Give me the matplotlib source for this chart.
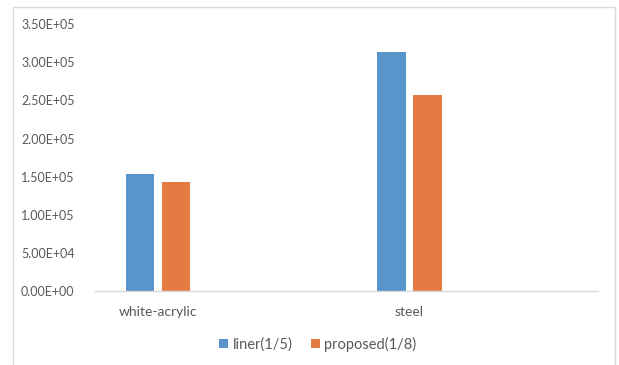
import matplotlib.pyplot as plt
from matplotlib.patches import Rectangle
from matplotlib.ticker import FuncFormatter
import numpy as np

plt.rcParams['font.family'] = ['Lato', 'DejaVu Sans']

materials = ['white-acrylic', 'steel']
liner = [1.53e5, 3.136e5]
proposed = [1.43e5, 2.568e5]
series_names = ['liner(1/5)', 'proposed(1/8)']

W, H = 619, 365
fig = plt.figure(figsize=(W / 100, H / 100), dpi=100)

# chart frame, runs off the bottom of the image
fig.patches.append(Rectangle((13 / W, -0.05), (615 - 13) / W, 1.05 - 6.5 / H,
                             transform=fig.transFigure, fill=False,
                             edgecolor='#d9d9d9', linewidth=1.0))

ax = fig.add_axes([95.4 / W, 1 - 291 / H, (598 - 95.4) / W, (291 - 24.3) / H])

x = np.arange(len(materials))
w = 0.1126
off = 0.0712
ax.bar(x - off, liner, w, color='#5795ca', label=series_names[0])
ax.bar(x + off, proposed, w, color='#e37b42', label=series_names[1])

ax.set_xlim(-0.25, 1.75)
ax.set_ylim(0, 3.5e5)
ax.set_yticks(np.arange(0, 3.5e5 + 1, 5e4))
ax.yaxis.set_major_formatter(FuncFormatter(lambda v, p: '%.2E' % v))
ax.set_xticks(x)
ax.set_xticklabels(materials)

for s in ['top', 'right', 'left']:
    ax.spines[s].set_visible(False)
ax.spines['bottom'].set_color('#d9d9d9')
ax.spines['bottom'].set_linewidth(1.0)
ax.tick_params(axis='both', length=0, labelcolor='#595959')
ax.tick_params(axis='y', pad=15, labelsize=9)
ax.tick_params(axis='x', pad=11, labelsize=10)

ax.legend(loc='center', bbox_to_anchor=(318 / W, 1 - 344 / H),
          bbox_transform=fig.transFigure, ncol=2, frameon=False,
          fontsize=10.5, labelcolor='#595959', handlelength=0.6, handleheight=0.6,
          handletextpad=0.3, columnspacing=1.3)

fig.savefig('out.png', dpi=100)
